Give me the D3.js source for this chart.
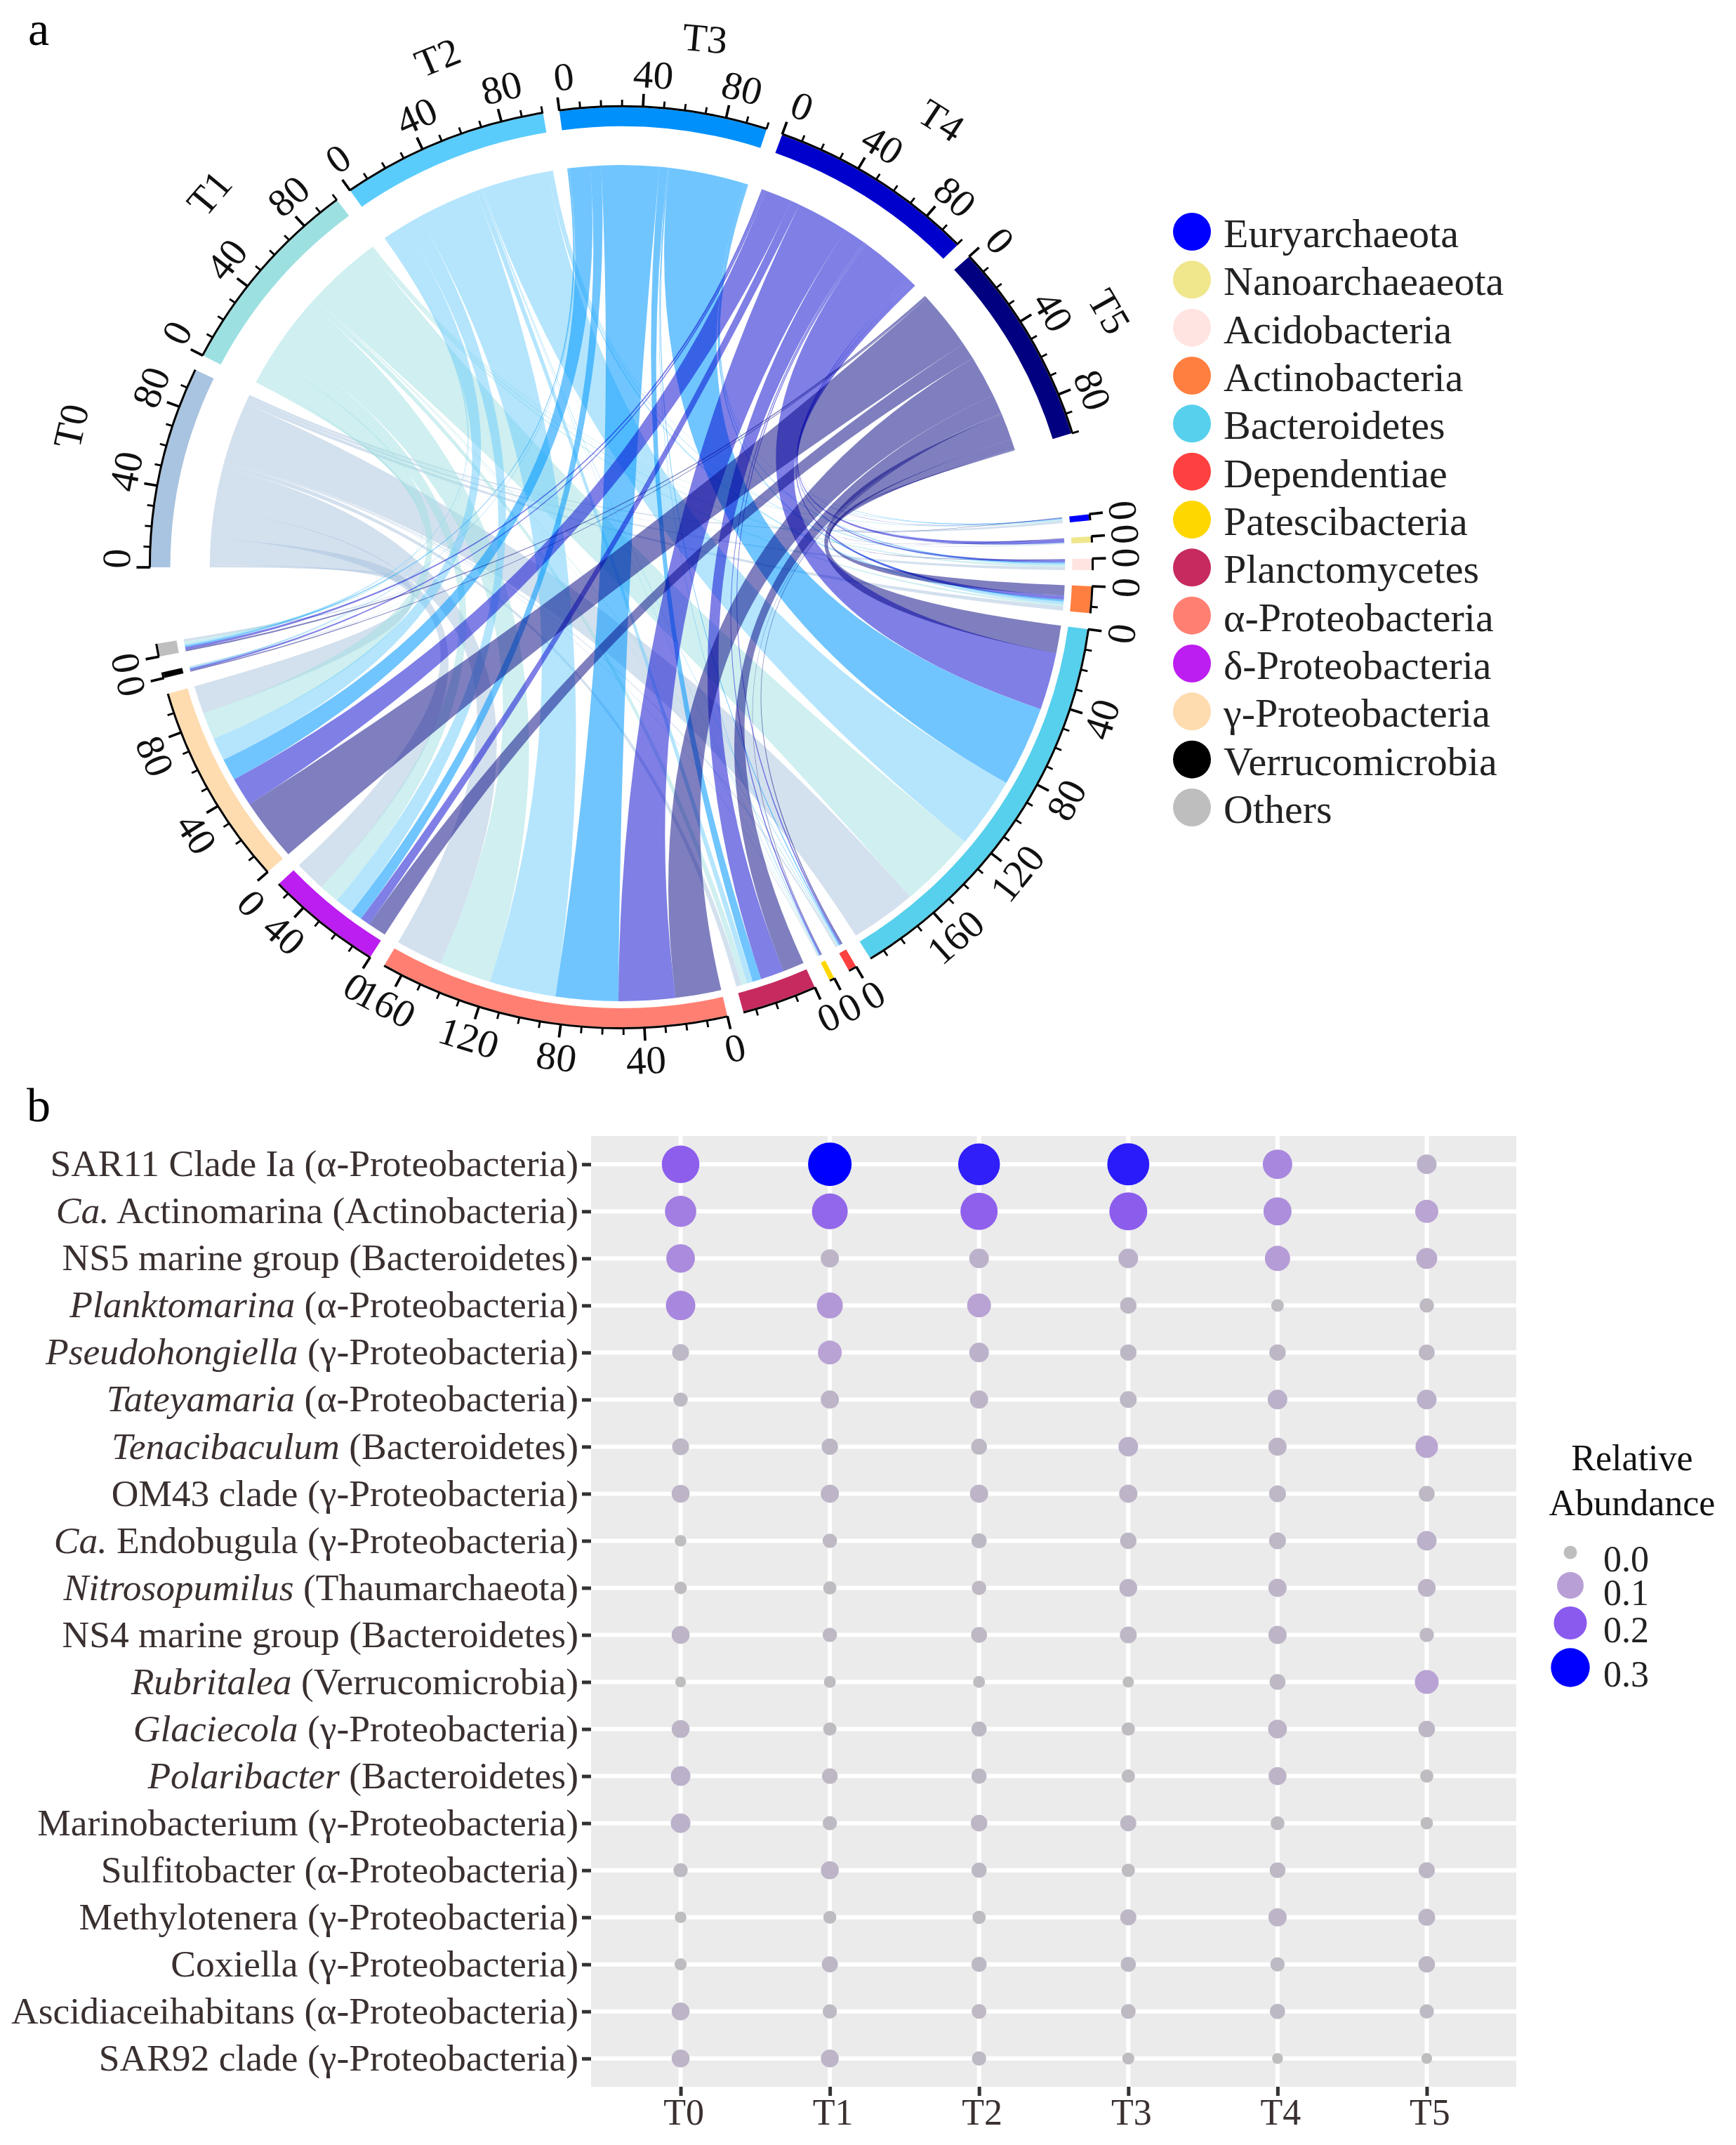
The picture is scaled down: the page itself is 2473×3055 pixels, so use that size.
<!DOCTYPE html>
<html>
<head>
<meta charset="utf-8">
<script src="https://cdnjs.cloudflare.com/ajax/libs/d3/7.8.5/d3.min.js"></script>
<style>
html,body{margin:0;padding:0;background:#fff}
text{font-family:"Liberation Serif","Times New Roman",serif}
</style>
</head>
<body>
<svg id="chart" width="2473" height="3055" viewBox="0 0 2473 3055"></svg>
<script>
// ---------- DATA : panel a ----------
const samples = ["T0","T1","T2","T3","T4","T5"];
const phyla = ["Euryarchaeota","Nanoarchaeaeota","Acidobacteria","Actinobacteria","Bacteroidetes","Dependentiae","Patescibacteria","Planctomycetes","α-Proteobacteria","δ-Proteobacteria","γ-Proteobacteria","Verrucomicrobia","Others"];
const flowT0 = [1.2,0.3,1.6,2.2,34,0.8,0.4,2.7,24,16,14.7,0.4,1.2];
const flowT1 = [0.6,0.2,1,1,40,0.6,0.3,3,27,10.5,14.2,0.3,1.3];
const flowT2 = [0.4,0.1,0.8,1.5,37,0.5,0.3,3,34,9.5,12,0.3,0.9];
const flowT3 = [0.3,0.1,0.7,1,42,0.6,0.3,4.5,32,6,11.5,0.3,0.8];
const flowT4 = [0.2,2,1.3,2,30,0.8,0.8,12,29,5,15,1,1.3];
const flowT5 = [0.3,0.3,0.3,5.5,14.5,0.7,0.4,11,23.5,9.5,32.5,0.6,0.9];
const flows = [flowT0,flowT1,flowT2,flowT3,flowT4,flowT5];

// ---------- DATA : panel b ----------
const generaItalic = ["","Ca.","","Planktomarina","Pseudohongiella","Tateyamaria","Tenacibaculum","","Ca.","Nitrosopumilus","","Rubritalea","Glaciecola","Polaribacter","","","","","",""];
const generaPlain = ["SAR11 Clade Ia (α-Proteobacteria)"," Actinomarina (Actinobacteria)","NS5 marine group (Bacteroidetes)"," (α-Proteobacteria)"," (γ-Proteobacteria)"," (α-Proteobacteria)"," (Bacteroidetes)","OM43 clade (γ-Proteobacteria)"," Endobugula (γ-Proteobacteria)"," (Thaumarchaeota)","NS4 marine group (Bacteroidetes)"," (Verrucomicrobia)"," (γ-Proteobacteria)"," (Bacteroidetes)","Marinobacterium (γ-Proteobacteria)","Sulfitobacter (α-Proteobacteria)","Methylotenera (γ-Proteobacteria)","Coxiella (γ-Proteobacteria)","Ascidiaceihabitans (α-Proteobacteria)","SAR92 clade (γ-Proteobacteria)"];
const abundT0 = [.193,.148,.129,.135,.045,.027,.045,.053,.008,.014,.053,.002,.053,.065,.065,.027,.008,.011,.053,.053];
const abundT1 = [.31,.18,.055,.11,.095,.055,.042,.055,.028,.019,.028,.01,.02,.037,.027,.053,.018,.04,.027,.053];
const abundT2 = [.265,.19,.065,.095,.065,.055,.038,.055,.033,.028,.038,.01,.033,.033,.043,.033,.02,.033,.03,.027];
const abundT3 = [.27,.195,.065,.042,.042,.045,.065,.055,.042,.052,.045,.005,.02,.02,.04,.02,.04,.033,.03,.011];
const abundT4 = [.135,.125,.105,.015,.042,.065,.055,.045,.045,.055,.055,.038,.059,.053,.024,.037,.055,.027,.033,.002];
const abundT5 = [.065,.09,.075,.028,.038,.065,.085,.038,.065,.052,.028,.095,.043,.02,.014,.04,.046,.043,.027,.002];
const abundance = [abundT0,abundT1,abundT2,abundT3,abundT4,abundT5];
const legendValues = [0,0.1,0.2,0.3];

// ---------- STYLE / LAYOUT ----------
const trackColors = ["#a9c4e0","#9de0e1","#5accfc","#0090fb","#0000cd","#000080"];
const ribbonColors = ["#a7c1dd","#9fdfe1","#6accfc","#0097fe","#0000cd","#000080"];
const ribbonOpacity = [0.5,0.5,0.5,0.56,0.5,0.5];
const phylumColors = ["#0000ff","#f0e68c","#ffe4e1","#ff7f40","#56d0ec","#ff4040","#ffd700","#c62a5f","#ff8072","#bc1df0","#fedcb0","#000000","#bebebe"];
const degPerUnit = 0.255, smallGap = 2;
const startDeg = 270, gapAfterSamples = 10.3;
const cx = 885, cy = 808, stretchX = 1.023;
const trackOuter = 655, trackInner = 628, ribbonSampleR = 573, ribbonPhylumR = 618;
const nameAngle = [284.7,312.9,340.6,8.8,35,61.8], nameRadius = [792,783,770,762,777,771];
const phylumLabelShift = {"γ-Proteobacteria":-1.5,"δ-Proteobacteria":-0.5};
const rad = d => d*Math.PI/180;

const svg = d3.select("#chart");
const g = svg.append("g").attr("transform",`translate(${cx},${cy}) scale(${stretchX},1)`);

// sector layout
const sampleTotals = flows.map(r=>d3.sum(r));
const phylumTotals = phyla.map((_,j)=>d3.sum(flows,r=>r[j]));
let cursor = startDeg;
const sectors = [];
samples.forEach((n,i)=>{
  const a0=cursor,a1=a0+sampleTotals[i]*degPerUnit;
  sectors.push({name:n,isSample:true,idx:i,total:sampleTotals[i],a0,a1,color:trackColors[i]});
  cursor=a1+(i===samples.length-1?gapAfterSamples:smallGap);
});
phyla.forEach((n,j)=>{
  const a0=cursor,a1=a0+phylumTotals[j]*degPerUnit;
  sectors.push({name:n,isSample:false,idx:j,total:phylumTotals[j],a0,a1,color:phylumColors[j]});
  cursor=a1+smallGap;
});

// ribbons
const ribbon = d3.ribbon().sourceRadius(ribbonSampleR).targetRadius(ribbonPhylumR);
const links=[];
const sampleCursor = sectors.filter(s=>s.isSample).map(s=>s.a0);
const phylumCursor = sectors.filter(s=>!s.isSample).map(s=>s.a0);
// around each sample the phyla run in reverse, around each phylum the samples run in reverse
for(let i=samples.length-1;i>=0;i--){
  for(let j=phyla.length-1;j>=0;j--){
    const w=flows[i][j]*degPerUnit;
    links[i]=links[i]||[];
    links[i][j]={i,j,source:{startAngle:rad(sampleCursor[i]),endAngle:rad(sampleCursor[i]+w)}};
    sampleCursor[i]+=w;
  }
}
for(let j=0;j<phyla.length;j++){
  for(let i=samples.length-1;i>=0;i--){
    const w=flows[i][j]*degPerUnit;
    links[i][j].target={startAngle:rad(phylumCursor[j]),endAngle:rad(phylumCursor[j]+w)};
    phylumCursor[j]+=w;
  }
}
g.append("g").selectAll("path").data(links.flat()).join("path")
  .attr("d",d=>ribbon(d)).attr("fill",d=>ribbonColors[d.i]).attr("fill-opacity",d=>ribbonOpacity[d.i]).attr("stroke","none");

// tracks
const arc=d3.arc();
g.append("g").selectAll("path").data(sectors).join("path")
  .attr("d",s=>arc({innerRadius:trackInner,outerRadius:trackOuter,startAngle:rad(s.a0),endAngle:rad(s.a1)}))
  .attr("fill",s=>s.color);
g.append("g").selectAll("path").data(sectors).join("path")
  .attr("d",s=>arc({innerRadius:trackOuter,outerRadius:trackOuter+3,startAngle:rad(s.a0),endAngle:rad(s.a1)}))
  .attr("fill","#000");

// ticks and tick labels
const isLower = a => { const n=(a+360)%360; return n>90&&n<270; };
sectors.forEach(s=>{
  const scale=d3.scaleLinear().domain([0,s.total]).range([s.a0,s.a1]);
  const values=d3.range(0,s.total+0.01,10);
  const sel=g.append("g");
  const shift=s.isSample?1:(phylumLabelShift[s.name]||0);
  values.forEach(v=>{
    const major=v%40===0, a=scale(v);
    sel.append("line").attr("transform",`rotate(${a})`)
      .attr("y1",-trackOuter-1).attr("y2",-trackOuter-(major?20:11))
      .attr("stroke","#000").attr("stroke-width",major?3.6:2.8);
    if(major){
      const la=a+shift;
      sel.append("text").attr("transform",`rotate(${la}) translate(0,${-trackOuter-48}) rotate(${isLower(la)?180:0})`)
        .attr("text-anchor","middle").attr("dominant-baseline","central")
        .attr("font-size",56).attr("fill","#111").text(v);
    }
  });
  if(s.isSample){
    const mid=(s.a0+s.a1)/2;
    g.append("text").attr("transform",`rotate(${nameAngle[s.idx]}) translate(0,${-nameRadius[s.idx]}) rotate(${mid-nameAngle[s.idx]})`)
      .attr("text-anchor","middle").attr("dominant-baseline","central")
      .attr("font-size",56).attr("fill","#111").text(s.name);
  }
});

// panel letters
svg.append("text").attr("x",40).attr("y",64).attr("font-size",68).attr("fill","#000").text("a");
svg.append("text").attr("x",38).attr("y",1597).attr("font-size",68).attr("fill","#000").text("b");

// phylum legend
const legendY=d3.scaleLinear().domain([0,phyla.length-1]).range([330,1150]);
const lg=svg.append("g");
phyla.forEach((n,j)=>{
  lg.append("circle").attr("cx",1698).attr("cy",legendY(j)).attr("r",27).attr("fill",phylumColors[j]);
  lg.append("text").attr("x",1743).attr("y",legendY(j)+22).attr("font-size",58).attr("fill","#222").text(n);
});

// ---------- PANEL B ----------
const panel={l:842,r:2160,t:1618,b:2972};
const x=d3.scalePoint().domain(samples).range([panel.l,panel.r]).padding(0.6);
const y=d3.scalePoint().domain(d3.range(generaPlain.length)).range([panel.t,panel.b]).padding(0.6);
const sizeScale=d3.scaleLinear().domain([0,.1,.2,.3]).range([7.5,17.5,27.5,31]).clamp(true);
const legendSize=d3.scaleLinear().domain(legendValues).range([9.5,19,23.5,27.7]);
const colorScale=d3.scaleLinear().domain([0,.06,.1,.2,.3]).range(["#bebebe","#bdb4c8","#b89fd6","#8a59ee","#0000ff"]).clamp(true);

const b=svg.append("g");
b.append("rect").attr("x",panel.l).attr("y",panel.t).attr("width",panel.r-panel.l).attr("height",panel.b-panel.t).attr("fill","#ebebeb");
b.append("g").selectAll("line").data(samples).join("line")
  .attr("x1",d=>x(d)).attr("x2",d=>x(d)).attr("y1",panel.t).attr("y2",panel.b).attr("stroke","#fff").attr("stroke-width",6);
b.append("g").selectAll("line").data(y.domain()).join("line")
  .attr("y1",d=>y(d)).attr("y2",d=>y(d)).attr("x1",panel.l).attr("x2",panel.r).attr("stroke","#fff").attr("stroke-width",6);

const yAxis=b.append("g").attr("transform",`translate(${panel.l},0)`).call(d3.axisLeft(y).tickSize(13).tickFormat(""));
yAxis.select(".domain").remove();
yAxis.selectAll(".tick text").remove();
yAxis.selectAll(".tick line").attr("stroke","#333").attr("stroke-width",5);
const xAxis=b.append("g").attr("transform",`translate(0,${panel.b})`).call(d3.axisBottom(x).tickSize(13).tickPadding(4));
xAxis.select(".domain").remove();
xAxis.selectAll(".tick line").attr("stroke","#333").attr("stroke-width",5);
xAxis.selectAll(".tick text").attr("font-size",52).attr("fill","#3a3030").attr("font-family","Liberation Serif").attr("dx",4);

const labels=b.append("g");
generaPlain.forEach((p,r)=>{
  const t=labels.append("text").attr("x",824).attr("y",y(r)).attr("dy","0.32em").attr("text-anchor","end").attr("font-size",53.5).attr("fill","#3a3030");
  if(generaItalic[r]) t.append("tspan").attr("font-style","italic").text(generaItalic[r]);
  t.append("tspan").text(p);
});

samples.forEach((s,c)=>{
  b.append("g").selectAll("circle").data(abundance[c]).join("circle")
    .attr("cx",x(s)).attr("cy",(d,r)=>y(r)).attr("r",d=>sizeScale(d)).attr("fill",d=>colorScale(d));
});

// abundance legend
const legendTitle=["Relative","Abundance"];
legendTitle.forEach((t,i)=>b.append("text").attr("x",2325).attr("y",2094+i*64).attr("text-anchor","middle").attr("font-size",52).attr("fill","#111").text(t));
const legendDotY=[2211,2258,2311.5,2375], legendTextY=[2238,2286,2339,2402];
legendValues.forEach((v,i)=>{
  b.append("circle").attr("cx",2237).attr("cy",legendDotY[i]).attr("r",legendSize(v)).attr("fill",colorScale(v));
  b.append("text").attr("x",2284).attr("y",legendTextY[i]).attr("font-size",52).attr("fill","#222").text(v.toFixed(1));
});
</script>
</body>
</html>
